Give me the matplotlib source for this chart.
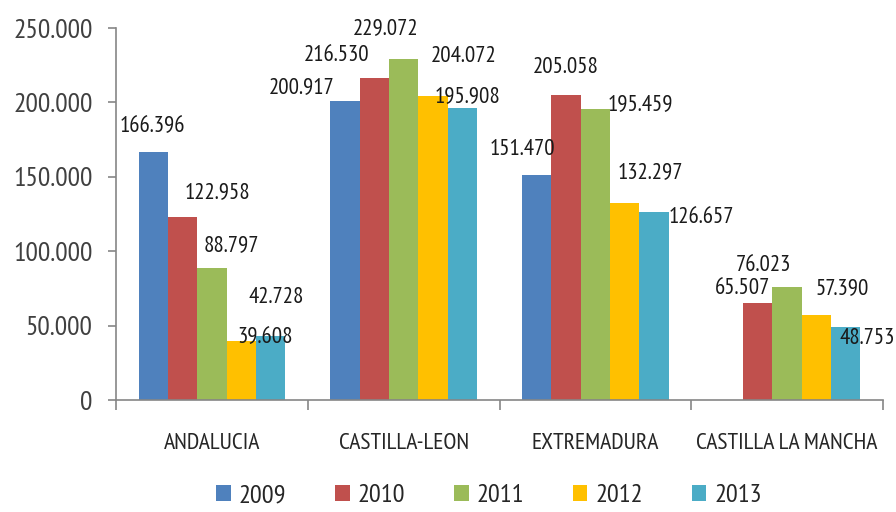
import numpy as np
import matplotlib
matplotlib.use('Agg')
import matplotlib.pyplot as plt
from matplotlib.ticker import FixedLocator, FuncFormatter

# --- Datos ---
regiones = ['ANDALUCIA', 'CASTILLA-LEON', 'EXTREMADURA', 'CASTILLA LA MANCHA']
anios = ['2009', '2010', '2011', '2012', '2013']
v2009 = [166396, 200917, 151470, None]
v2010 = [122958, 216530, 205058, 65507]
v2011 = [88797, 229072, 195459, 76023]
v2012 = [39608, 204072, 132297, 57390]
v2013 = [42728, 195908, 126657, 48753]
series = [v2009, v2010, v2011, v2012, v2013]

# --- Estilo ---
colores = ['#4F81BD', '#C0504D', '#9BBB59', '#FFC000', '#4BACC6']
# desplazamiento de cada etiqueta (px) respecto al tope de su barra (movidas a mano en el original)
offsets_px = [
    [(-1, 26), (-43, 13), (-14, 25), None],
    [(35, 24), (-38, 22), (0, 27), (-15, 14)],
    [(19, 22), (-18, 31), (45, 5), (-24, 21)],
    [(24, 4), (31, 40), (26, 31), (26, 26)],
    [(6, 39), (5, 12), (47, -6), (22, -11)],
]
plt.rcParams['font.family'] = ['PT Sans Narrow', 'Carlito', 'DejaVu Sans']
GRIS = '#868686'

def miles(v, pos=None):
    return f'{v:,.0f}'.replace(',', '.')

fig = plt.figure(figsize=(8.96, 5.12), dpi=100)
ax = fig.add_axes([116 / 896, 1 - 400 / 512, (883 - 116) / 896, (400 - 28) / 512])

n = len(anios)
ancho = 1 / (n + 1.55)
x = np.arange(len(regiones))

for i, (serie, color, anio) in enumerate(zip(series, colores, anios)):
    pos = x + (i - (n - 1) / 2) * ancho
    alturas = [np.nan if v is None else v for v in serie]
    ax.bar(pos, alturas, width=ancho, color=color, label=anio, zorder=2)
    for j, v in enumerate(serie):
        if v is None:
            continue
        dx, dy = offsets_px[i][j]
        ax.annotate(miles(v), xy=(pos[j], v), xytext=(dx, dy),
                    textcoords='offset pixels', ha='center', va='center',
                    fontsize=16.5, color='#1a1a1a', zorder=3)

ax.set_xlim(-0.5, len(regiones) - 0.5)
ax.set_ylim(0, 250000)
ax.set_yticks(np.arange(0, 250001, 50000))
ax.yaxis.set_major_formatter(FuncFormatter(miles))

# ticks en los límites de categoría, etiquetas en el centro
ax.xaxis.set_major_locator(FixedLocator(np.arange(-0.5, len(regiones), 1.0)))
ax.xaxis.set_major_formatter(FuncFormatter(lambda v, p: ''))
ax.xaxis.set_minor_locator(FixedLocator(x))
ax.set_xticklabels(regiones, minor=True)

for lado in ['top', 'right']:
    ax.spines[lado].set_visible(False)
for lado in ['left', 'bottom']:
    ax.spines[lado].set_color(GRIS)
    ax.spines[lado].set_linewidth(1.2)

ax.tick_params(axis='y', direction='out', length=6, width=1.2, color=GRIS,
               pad=11, labelsize=20, labelcolor='#404040')
ax.tick_params(axis='x', which='major', direction='out', length=7, width=1.2, color=GRIS)
ax.tick_params(axis='x', which='minor', length=0, pad=24, labelsize=17, labelcolor='#262626')

leg = ax.legend(loc='center', bbox_to_anchor=(489 / 896, 1 - 496 / 512),
                bbox_transform=fig.transFigure, ncol=5, frameon=False,
                fontsize=19, handlelength=0.55, handleheight=0.55,
                handletextpad=0.3, columnspacing=1.85, borderaxespad=0,
                borderpad=0)
for t in leg.get_texts():
    t.set_color('#262626')

fig.savefig('out.png', dpi=100)
